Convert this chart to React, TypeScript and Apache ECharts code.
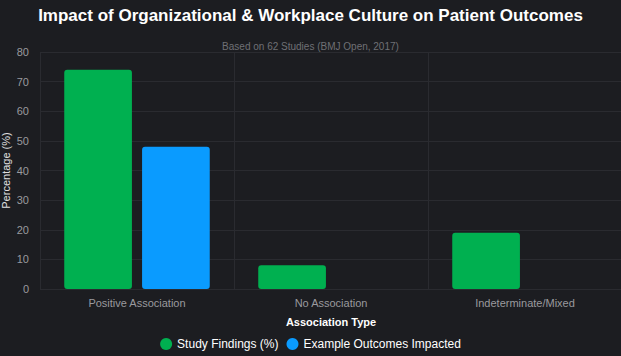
import React, { useEffect, useRef } from "react";
import * as echarts from "echarts";

const categories = ["Positive Association", "No Association", "Indeterminate/Mixed"];
const studyFindings = [74, 8, 19];
const exampleOutcomes = [48, null, null];
const yTicks = { min: 0, max: 80, interval: 10 };

export default function App() {
  const ref = useRef<HTMLDivElement>(null);
  useEffect(() => {
    document.body.style.margin = "0";
    const chart = echarts.init(ref.current!, null, { renderer: "svg" });
    const font = "'Liberation Sans', Arial, Helvetica, sans-serif";
    chart.setOption({
      animation: false,
      backgroundColor: "#1c1d21",
      textStyle: { fontFamily: font },
      title: [
        {
          text: "Impact of Organizational & Workplace Culture on Patient Outcomes",
          left: "center",
          top: 2,
          textStyle: { color: "#ffffff", fontSize: 17, fontWeight: "bold", fontFamily: font },
        },
        {
          text: "Based on 62 Studies (BMJ Open, 2017)",
          left: "center",
          top: 36,
          textStyle: { color: "#6f7075", fontSize: 10, fontWeight: "normal", fontFamily: font },
        },
      ],
      legend: {
        bottom: 1,
        left: "center",
        icon: "circle",
        itemWidth: 12,
        itemHeight: 12,
        itemGap: 8,
        textStyle: { color: "#ffffff", fontSize: 12, fontFamily: font },
        data: ["Study Findings (%)", "Example Outcomes Impacted"],
      },
      grid: { left: 40, right: -1, top: 52, bottom: 67, containLabel: false, outerBoundsMode: "none" },
      xAxis: {
        type: "category",
        data: categories,
        name: "Association Type",
        nameLocation: "middle",
        nameGap: 27,
        nameMoveOverlap: false,
        nameTextStyle: { color: "#ffffff", fontSize: 11, fontWeight: "bold", fontFamily: font },
        axisLine: { show: false },
        axisTick: { show: false },
        axisLabel: { color: "#9a9a9e", fontSize: 11, margin: 8, fontFamily: font },
        splitLine: { show: true, lineStyle: { color: "#2a2b30", width: 1 } },
      },
      yAxis: {
        type: "value",
        min: yTicks.min,
        max: yTicks.max,
        interval: yTicks.interval,
        name: "Percentage (%)",
        nameLocation: "middle",
        nameGap: 29,
        nameMoveOverlap: false,
        nameTextStyle: { color: "#e0e0e0", fontSize: 11, fontFamily: font },
        axisLine: { show: false },
        axisTick: { show: false },
        axisLabel: { color: "#9a9a9e", fontSize: 11, margin: 11, fontFamily: font },
        splitLine: { show: true, lineStyle: { color: "#2a2b30", width: 1 } },
      },
      series: [
        {
          name: "Study Findings (%)",
          type: "bar",
          data: studyFindings,
          barGap: "15%",
          barCategoryGap: "25%",
          itemStyle: { color: "#00b050", borderRadius: 3 },
        },
        {
          name: "Example Outcomes Impacted",
          type: "bar",
          data: exampleOutcomes,
          itemStyle: { color: "#0a9bff", borderRadius: 3 },
        },
      ],
    });
    return () => chart.dispose();
  }, []);
  return (
    <div
      ref={ref}
      style={{ position: "absolute", left: 0, top: 0, width: 621, height: 356 }}
    />
  );
}
